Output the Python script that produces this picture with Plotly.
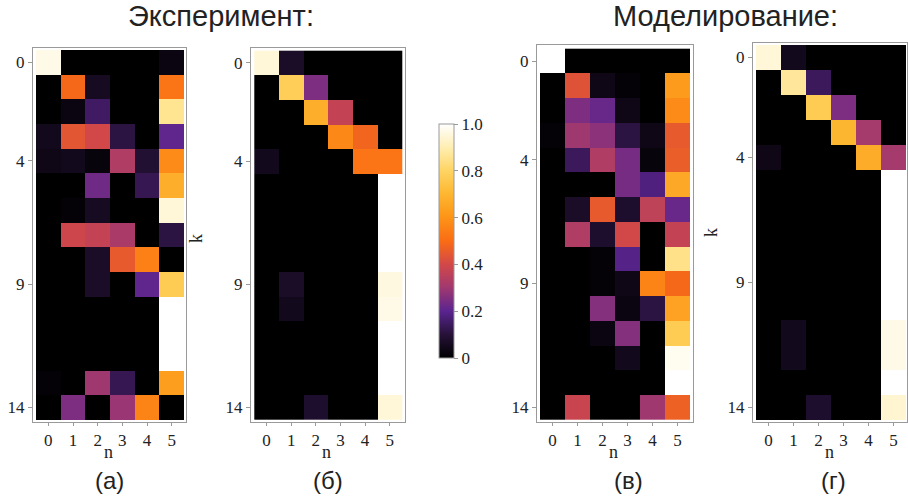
import plotly.graph_objects as go

# ---------------- data ----------------
n_vals = [0, 1, 2, 3, 4, 5]
k_vals = list(range(15))
x_tick_labels = ["0", "1", "2", "3", "4", "5"]
y_tick_vals = [0, 4, 9, 14]
y_tick_labels = ["0", "4", "9", "14"]
cbar_vals = [0, 0.2, 0.4, 0.6, 0.8, 1.0]
cbar_labels = ["0", "0.2", "0.4", "0.6", "0.8", "1.0"]

# Experiment (a)
exp_a = [
    [0.97, 0.00, 0.00, 0.00, 0.00, 0.03],
    [0.00, 0.49, 0.06, 0.00, 0.00, 0.52],
    [0.00, 0.03, 0.15, 0.00, 0.00, 0.86],
    [0.05, 0.44, 0.40, 0.11, 0.00, 0.21],
    [0.04, 0.05, 0.02, 0.33, 0.09, 0.58],
    [0.00, 0.00, 0.23, 0.00, 0.13, 0.68],
    [0.00, 0.01, 0.06, 0.00, 0.00, 0.95],
    [0.00, 0.39, 0.37, 0.32, 0.00, 0.11],
    [0.00, 0.00, 0.07, 0.45, 0.55, 0.00],
    [0.00, 0.00, 0.07, 0.00, 0.21, 0.77],
    [0.00, 0.00, 0.00, 0.00, 0.00, 1.00],
    [0.00, 0.00, 0.00, 0.00, 0.00, 1.00],
    [0.00, 0.00, 0.00, 0.00, 0.00, 1.00],
    [0.01, 0.00, 0.30, 0.13, 0.00, 0.63],
    [0.00, 0.25, 0.00, 0.29, 0.56, 0.00],
]
# Experiment (б)
exp_b = [
    [0.95, 0.07, 0.00, 0.00, 0.00, 0.00],
    [0.00, 0.78, 0.25, 0.00, 0.00, 0.00],
    [0.00, 0.00, 0.68, 0.37, 0.00, 0.00],
    [0.00, 0.00, 0.00, 0.57, 0.48, 0.00],
    [0.05, 0.00, 0.00, 0.00, 0.52, 0.52],
    [0.00, 0.00, 0.00, 0.00, 0.00, 1.00],
    [0.00, 0.00, 0.00, 0.00, 0.00, 1.00],
    [0.00, 0.00, 0.00, 0.00, 0.00, 1.00],
    [0.00, 0.00, 0.00, 0.00, 0.00, 1.00],
    [0.00, 0.07, 0.00, 0.00, 0.00, 0.96],
    [0.00, 0.05, 0.00, 0.00, 0.00, 0.97],
    [0.00, 0.00, 0.00, 0.00, 0.00, 1.00],
    [0.00, 0.00, 0.00, 0.00, 0.00, 1.00],
    [0.00, 0.00, 0.00, 0.00, 0.00, 1.00],
    [0.00, 0.00, 0.08, 0.00, 0.00, 0.95],
]
# Simulation (в)
sim_v = [
    [1.00, 0.00, 0.00, 0.00, 0.00, 0.00],
    [0.00, 0.43, 0.04, 0.01, 0.00, 0.62],
    [0.00, 0.25, 0.22, 0.04, 0.00, 0.58],
    [0.01, 0.30, 0.27, 0.11, 0.04, 0.45],
    [0.00, 0.14, 0.33, 0.24, 0.02, 0.46],
    [0.00, 0.00, 0.00, 0.24, 0.18, 0.66],
    [0.00, 0.07, 0.45, 0.08, 0.36, 0.22],
    [0.00, 0.33, 0.08, 0.40, 0.00, 0.37],
    [0.00, 0.00, 0.01, 0.19, 0.00, 0.85],
    [0.00, 0.00, 0.01, 0.04, 0.56, 0.49],
    [0.00, 0.00, 0.26, 0.03, 0.11, 0.64],
    [0.00, 0.00, 0.03, 0.26, 0.00, 0.77],
    [0.00, 0.00, 0.00, 0.05, 0.00, 0.98],
    [0.00, 0.00, 0.00, 0.00, 0.00, 1.00],
    [0.00, 0.38, 0.00, 0.00, 0.30, 0.47],
]
# Simulation (г)
sim_g = [
    [0.95, 0.05, 0.00, 0.00, 0.00, 0.00],
    [0.00, 0.87, 0.14, 0.00, 0.00, 0.00],
    [0.00, 0.00, 0.77, 0.25, 0.00, 0.00],
    [0.00, 0.00, 0.00, 0.70, 0.31, 0.00],
    [0.04, 0.00, 0.00, 0.00, 0.67, 0.31],
    [0.00, 0.00, 0.00, 0.00, 0.00, 1.00],
    [0.00, 0.00, 0.00, 0.00, 0.00, 1.00],
    [0.00, 0.00, 0.00, 0.00, 0.00, 1.00],
    [0.00, 0.00, 0.00, 0.00, 0.00, 1.00],
    [0.00, 0.00, 0.00, 0.00, 0.00, 1.00],
    [0.00, 0.00, 0.00, 0.00, 0.00, 1.00],
    [0.00, 0.05, 0.00, 0.00, 0.00, 0.97],
    [0.00, 0.05, 0.00, 0.00, 0.00, 0.97],
    [0.00, 0.00, 0.00, 0.00, 0.00, 1.00],
    [0.00, 0.00, 0.08, 0.00, 0.00, 0.94],
]

panels = [exp_a, exp_b, sim_v, sim_g]
panel_labels = ["(а)", "(б)", "(в)", "(г)"]
group_titles = ["Эксперимент:", "Моделирование:"]

# ---------------- styling / layout ----------------
W, H = 908, 503
colorscale = [
    [0.00, "#000000"], [0.10, "#261238"], [0.20, "#5a2490"],
    [0.30, "#a03870"], [0.40, "#d24848"], [0.50, "#fa6c14"],
    [0.60, "#fd9418"], [0.70, "#fdb630"], [0.80, "#fed462"],
    [0.90, "#ffeeb2"], [1.00, "#ffffff"],
]
# (frame box, heat box) in pixels: left, top, right, bottom
boxes = [
    ((33, 48, 186, 422), (36, 50, 184, 419.5)),
    ((251, 48, 405, 422), (254.3, 50.7, 402, 419.5)),
    ((537, 45, 693, 422), (540, 48.7, 690, 419.5)),
    ((753, 43, 907, 422), (756, 45, 906, 420)),
]
SERIF = "Liberation Serif, Times New Roman, serif"
SANS = "Liberation Sans, Arial, sans-serif"
FRAME = "#9a9a9a"

fig = go.Figure()
layout = dict(
    width=W, height=H, margin=dict(l=0, r=0, t=0, b=0),
    paper_bgcolor="white", plot_bgcolor="white", showlegend=False,
)
annotations = []

for i, (z, (fb, hb)) in enumerate(zip(panels, boxes)):
    sfx = "" if i == 0 else str(i + 1)
    fL, fT, fR, fB = fb
    hL, hT, hR, hB = hb
    cw = (hR - hL) / 6
    ch = (hB - hT) / 15
    xr = [-0.5 - (hL - fL) / cw, 5.5 + (fR - hR) / cw]
    yr = [14.5 + (fB - hB) / ch, -0.5 - (hT - fT) / ch]
    fig.add_trace(go.Heatmap(
        z=z, x=n_vals, y=k_vals, colorscale=colorscale, zmin=0, zmax=1,
        xaxis="x" + sfx, yaxis="y" + sfx, showscale=(i == 0),
        hoverinfo="skip",
        colorbar=dict(
            thickness=15, len=234, lenmode="pixels",
            x=439 / W, xanchor="left", y=1 - 241 / H, yanchor="middle",
            xpad=0, ypad=0, outlinewidth=1, outlinecolor=FRAME,
            tickvals=cbar_vals, ticktext=cbar_labels, ticks="outside",
            ticklen=4, tickcolor=FRAME,
            tickfont=dict(family=SERIF, size=17, color="#222"),
        ),
    ))
    layout["xaxis" + sfx] = dict(
        domain=[fL / W, fR / W], range=xr, anchor="y" + sfx,
        tickvals=n_vals, ticktext=x_tick_labels, ticks="outside", ticklen=3,
        tickcolor=FRAME, showline=True, linecolor=FRAME, linewidth=1,
        mirror=True, showgrid=False, zeroline=False, fixedrange=True,
        tickfont=dict(family=SERIF, size=17, color="#222"),
    )
    layout["yaxis" + sfx] = dict(
        domain=[1 - fB / H, 1 - fT / H], range=yr, anchor="x" + sfx,
        tickvals=y_tick_vals, ticktext=y_tick_labels, ticks="outside",
        ticklen=4, tickcolor=FRAME, showline=True, linecolor=FRAME,
        linewidth=1, mirror=True, showgrid=False, zeroline=False,
        fixedrange=True,
        tickfont=dict(family=SERIF, size=17, color="#222"),
    )
    # axis label "n"
    annotations.append(dict(
        text="n", xref="paper", yref="paper", x=((hL + hR) / 2 - 2) / W,
        y=1 - 452 / H, showarrow=False, xanchor="center", yanchor="middle",
        font=dict(family=SERIF, size=18, color="#222"),
    ))
    # panel label
    annotations.append(dict(
        text=panel_labels[i], xref="paper", yref="paper",
        x=[109, 328, 628, 833][i] / W, y=1 - 480 / H, showarrow=False,
        xanchor="center", yanchor="middle",
        font=dict(family=SANS, size=24, color="#222"),
    ))

# "k" labels
for kx, ky in [(196, 239), (711, 233)]:
    annotations.append(dict(
        text="k", xref="paper", yref="paper", x=kx / W, y=1 - ky / H,
        showarrow=False, textangle=-90, xanchor="center", yanchor="middle",
        font=dict(family=SERIF, size=18, color="#222"),
    ))

# group titles
for t, tx in zip(group_titles, [221, 725]):
    annotations.append(dict(
        text=t, xref="paper", yref="paper", x=tx / W, y=1 - 16 / H,
        showarrow=False, xanchor="center", yanchor="middle",
        font=dict(family=SANS, size=29, color="#222"),
    ))

layout["annotations"] = annotations
fig.update_layout(**layout)
fig.write_html("out.html")
